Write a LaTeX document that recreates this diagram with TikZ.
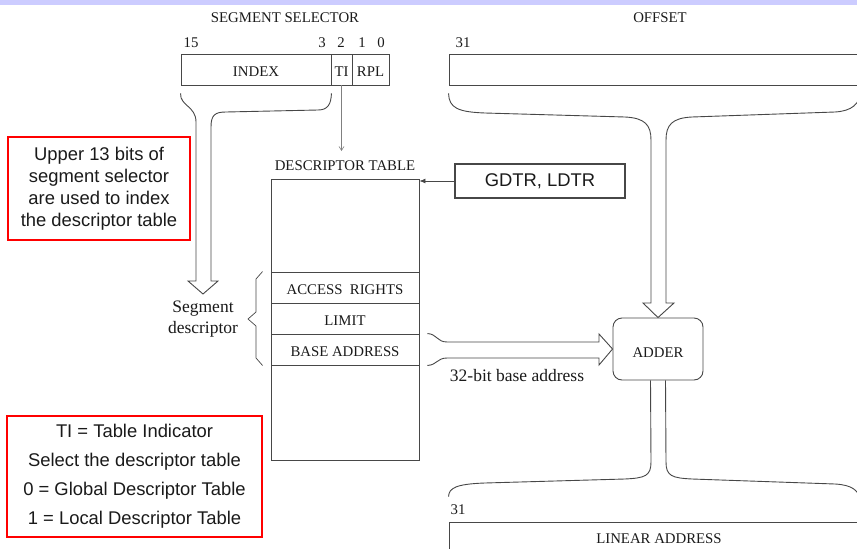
\documentclass[tikz,border=0pt]{standalone}
\usepackage{fontspec}
\setmainfont{Liberation Serif}
\newfontfamily\arialfont{Liberation Sans}
\usetikzlibrary{arrows.meta}
\definecolor{bandcol}{HTML}{CCCCFF}
\definecolor{linecol}{HTML}{474747}
\definecolor{textcol}{HTML}{1A1A1A}
\newcommand\fsCaps{\fontsize{14.8}{17}\selectfont}
\newcommand\fsBig{\fontsize{17.5}{21}\selectfont}
\newcommand\fsNoteA{\arialfont\fontsize{18.4}{22}\selectfont}
\newcommand\fsNoteB{\arialfont\fontsize{18.4}{29}\selectfont}
\tikzset{
  ln/.style={draw=linecol, line width=0.9pt},
  field/.style={ln, rectangle, inner sep=0pt, font=\fsCaps, text=textcol, text height=14.5pt, text depth=0pt},
  lbl/.style={inner sep=0pt, font=\fsCaps, text=textcol},
  biglbl/.style={inner sep=0pt, font=\fsBig, text=textcol, align=center},
  notebox/.style={draw=red, line width=1.8pt, inner sep=0pt, align=center, text=textcol},
  hollow/.style={ln, line width=0.9pt, line join=miter},
  thinbrace/.style={ln, line width=0.7pt},
}
\begin{document}
\begin{tikzpicture}[x=1pt,y=-1pt]
\useasboundingbox (0,0) rectangle (857,549);
\clip (0,0) rectangle (857,549);
\fill[bandcol] (0,0) rectangle (857,5);

% segment selector
\node[lbl] (segsel) at (285,18) {SEGMENT SELECTOR};
\node[lbl] (b15) at (191,43) {15};
\node[lbl] (b3) at (322,43) {3};
\node[lbl] (b2) at (341,43) {2};
\node[lbl] (b1) at (362,43) {1};
\node[lbl] (b0) at (381,43) {0};
\node[field, minimum width=150, minimum height=31] (index) at (256,69.5) {INDEX};
\node[field, minimum width=21, minimum height=31] (ti) at (341.5,69.5) {TI};
\node[field, minimum width=37, minimum height=31] (rpl) at (370.5,69.5) {RPL};

% offset
\node[lbl] (offlbl) at (660,18) {OFFSET};
\node[lbl] (o31) at (463,43) {31};
\node[field, minimum width=431, minimum height=31] (offset) at (664.5,69.5) {};

% descriptor table
\node[lbl] (dtlbl) at (345,166) {DESCRIPTOR TABLE};
\node[field, minimum width=148, minimum height=281] (table) at (345,319.5) {};
\node[field, minimum width=148, minimum height=31] (acc) at (345,287.5) {ACCESS\ \ RIGHTS};
\node[field, minimum width=148, minimum height=31] (lim) at (345,318.5) {LIMIT};
\node[field, minimum width=148, minimum height=31] (base) at (345,349.5) {BASE ADDRESS};

% GDTR
\node[ln, line width=1.3pt, minimum width=170, minimum height=34, inner sep=0pt, font=\fsNoteA, text=textcol] (gdtr) at (540,181) {GDTR, LDTR};
\draw[ln, line width=0.8pt, -{Latex[length=6pt,width=5pt]}] (gdtr.west) -- (table.east |- gdtr.west);

% TI arrow
\coordinate (titip) at (341.5,151);
\draw[draw=gray, line width=0.6pt, -{Straight Barb[length=4pt,width=5pt]}] (ti.south) -- (titip);

% adder
\node[ln, rounded corners=9pt, minimum width=90, minimum height=62, inner sep=0pt, font=\fsCaps, text=textcol, text height=16pt, text depth=0pt] (adder) at (658,349) {ADDER};

% segment descriptor
\coordinate (idxtip) at (203,294);
\node[biglbl] (segdesc) at (203,319) {Segment\\descriptor};
\draw[thinbrace] ([xshift=-8pt]acc.north west) -- (256,279) -- (256,312) -- (248,319) -- (256,326) -- (256,358) -- ([xshift=-8pt]base.south west);

% index hollow arrow
\draw[hollow] ([yshift=-8pt]index.south west) .. controls (180,106) and (196,106) .. (196,122) -- (196,281) -- (188,281) -- (idxtip) -- (218,281) -- (211,281) -- (211,127) .. controls (211,115) and (215,112) .. (226,112) -- (318,110) .. controls (328,110) and (331,104) .. ([yshift=-8pt]index.south east);

% offset hollow arrow
\draw[hollow] ([yshift=-8pt]offset.south west) .. controls (449,108) and (458,112) .. (485,113) -- (625,117) .. controls (645,118) and (651,125) .. (651,140) -- (651,303) -- (643,303) -- (adder.north) -- (674,303) -- (666,303) -- (666,140) .. controls (666,125) and (672,118) .. (692,117) -- (835,112) .. controls (852,111) and (860,104) .. (861,90);

% base address hollow arrow
\draw[hollow] ([xshift=8pt]base.north east) .. controls (437,334) and (437,342) .. (447,342) -- (599,342) -- (599,334) -- (adder.west) -- (599,365) -- (599,358) -- (447,358) .. controls (437,358) and (437,365) .. ([xshift=8pt]base.south east);
\node[biglbl] (bitlbl) at (517,376) {32-bit base address};

% linear address
\node[field, minimum width=431, minimum height=32] (linear) at (664.5,538) {};
\node[lbl] (linlbl) at (659,539) {LINEAR ADDRESS};
\node[lbl] (l31) at (458,510) {31};
\draw[hollow] ([xshift=-7.5pt]adder.south) -- (651,462) .. controls (651,476) and (645,478) .. (625,479) -- (485,483) .. controls (456,484) and (449,488) .. ([yshift=25pt]linear.north west);
\draw[hollow] ([xshift=7.5pt]adder.south) -- (666,462) .. controls (666,476) and (672,478) .. (692,479) -- (835,484) .. controls (852,485) and (859,490) .. (861,502);

% notes
\node[notebox, font=\fsNoteA, minimum width=182, minimum height=103] (note1) at (99,188.5) {Upper 13 bits of\\segment selector\\are used to index\\the descriptor table};
\node[notebox, font=\fsNoteB, minimum width=255, minimum height=121] (note2) at (134.5,476.5) {TI = Table Indicator\\Select the descriptor table\\0 = Global Descriptor Table\\1 = Local Descriptor Table};
\end{tikzpicture}
\end{document}
